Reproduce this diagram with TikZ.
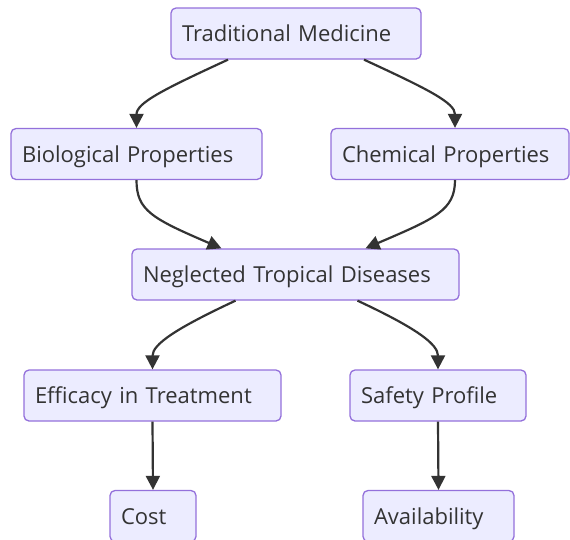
\documentclass[tikz,border=0pt]{standalone}
\usepackage{fontspec}
\setmainfont{Open Sans}
\usepackage{tikz}
\usetikzlibrary{arrows.meta}

\definecolor{boxfill}{HTML}{ECECFF}
\definecolor{boxline}{HTML}{9370DB}
\definecolor{inkgray}{HTML}{333333}

\tikzset{
    box/.style={draw=boxline, fill=boxfill, line width=1.3pt, rounded corners=5pt,
        inner xsep=11pt, inner ysep=0pt, minimum height=51pt, align=left,
        text height=16pt, text depth=0pt,
        text=inkgray, font=\fontsize{22}{26}\selectfont},
    arr/.style={draw=inkgray, line width=2.2pt, -{Triangle[length=14pt,width=14pt]}}
}

\begin{document}
\begin{tikzpicture}[x=1pt,y=-1pt]
    \useasboundingbox (0,0) rectangle (570,539);

    % first two rows
    \node[box, text width=228pt] (tm) at (296,33.5) {Traditional Medicine};
    \node[box, text width=229pt] (bio) at (136.5,154) {Biological Properties};
    \node[box, text width=216pt] (chem) at (450,154) {Chemical Properties};

    \node[box, text width=305pt] (ntd) at (295.5,274.5) {Neglected Tropical Diseases};

    % bottom rows
    \node[box, text width=235pt] (eff) at (152.5,395.5) {Efficacy in Treatment};
    \node[box, text width=154pt] (safe) at (438,395.5) {Safety Profile};
    \node[box, text width=64pt] (cost) at (153,516) {Cost};
    \node[box, text width=129pt] (avail) at (438.5,516) {Availability};

    \draw[arr] ([xshift=-68pt]tm.south) .. controls +(-65,30) and +(0,-25) .. (bio.north);
    \draw[arr] ([xshift=68pt]tm.south) .. controls +(65,30) and +(0,-25) .. ([xshift=5pt]chem.north);
    \draw[arr] (bio.south) .. controls +(0,30) and +(-70,-30) .. ([xshift=-74pt]ntd.north);
    \draw[arr] ([xshift=5pt]chem.south) .. controls +(0,30) and +(70,-30) .. ([xshift=70pt]ntd.north);
    \draw[arr] ([xshift=-60pt]ntd.south) .. controls +(-60,28) and +(0,-25) .. (eff.north);
    \draw[arr] ([xshift=62pt]ntd.south) .. controls +(60,28) and +(0,-25) .. (safe.north);
    \draw[arr] (eff.south) -- (cost.north);
    \draw[arr] (safe.south) -- (avail.north);
\end{tikzpicture}
\end{document}
